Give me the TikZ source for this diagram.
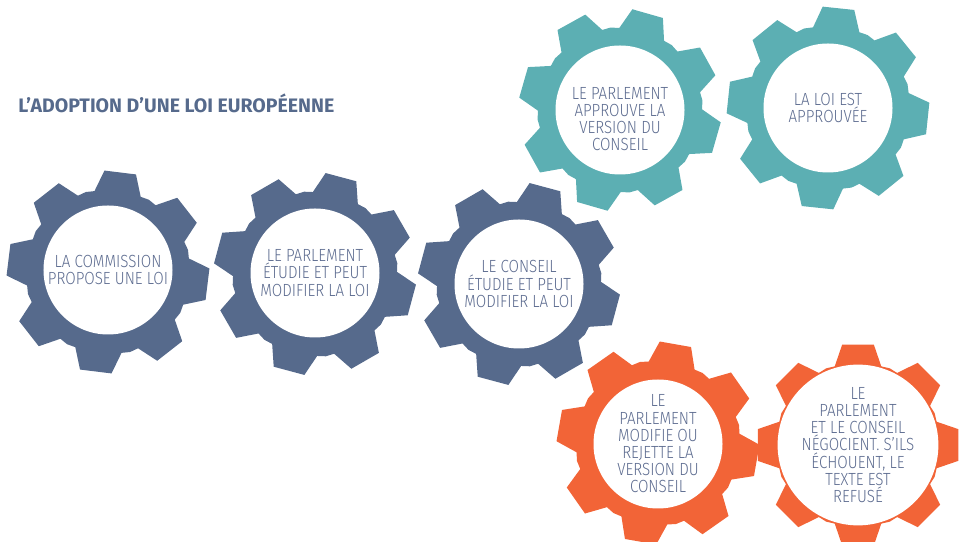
\documentclass[tikz,border=0pt]{standalone}
\usepackage{fontspec}
\setmainfont{Fira Sans}
\newfontfamily\gearfont{Fira Sans Light}[FakeStretch=0.86]
\usetikzlibrary{positioning}
\definecolor{gearblue}{HTML}{566A8C}
\definecolor{gearteal}{HTML}{5CAFB3}
\definecolor{gearorange}{HTML}{F26437}
\definecolor{labelblue}{HTML}{5D6C90}
\tikzstyle{disc} = [circle, fill=white, minimum size=25.8mm, inner sep=0pt, align=center, text=labelblue, font=\gearfont\fontsize{10}{9.8}\selectfont]
\tikzstyle{disctext} = [inner sep=0pt, align=center, text=labelblue, font=\gearfont\fontsize{10}{9.8}\selectfont]
\tikzstyle{heading} = [anchor=west, inner sep=0pt, text=gearblue, font=\bfseries\fontsize{11.1}{12}\selectfont]
% gear with 8 teeth: centre, rotation, colour
\newcommand{\gearat}[3]{%
  \fill[#3, shift={(#1)}, rotate=#2] (-16.5:82)
    \foreach \k in {0,...,7} { -- ({\k*45-16.5}:82) -- ({\k*45-9}:101.5) -- ({\k*45+9}:101.5) -- ({\k*45+16.5}:82) -- ({\k*45+22.5}:83) } -- cycle;}
\begin{document}
\begin{tikzpicture}[x=0.2mm, y=0.2mm]
    \useasboundingbox (0,0) rectangle (968,542);
    \node[heading] (title) at (18,439) {L’ADOPTION D’UNE LOI EUROPÉENNE};

    \gearat{108,270}{83}{gearblue}
    \gearat{315,268}{75}{gearblue}
    \gearat{519,258}{75}{gearblue}
    \gearat{620,432}{74}{gearteal}
    \gearat{828,434}{84}{gearteal}
    \gearat{658,99}{80}{gearorange}
    \gearat{858,97}{90}{gearorange}

    \node[disc] (propose) at (108,272) {LA COMMISSION\\PROPOSE UNE LOI};
    \node[disc] (parlement) at (315,269) {LE PARLEMENT\\ÉTUDIE ET PEUT\\MODIFIER LA LOI};
    \node[disc] (conseil) at (519,258) {LE CONSEIL\\ÉTUDIE ET PEUT\\MODIFIER LA LOI};
    \node[disc] (approuve) at (620,432) {};
    \node[disctext] (approuvetext) at (620,423) {LE PARLEMENT\\APPROUVE LA\\VERSION DU\\CONSEIL};
    \node[disc] (adoptee) at (828,434) {LA LOI EST\\APPROUVÉE};
    \node[disc] (modifie) at (658,98) {LE\\PARLEMENT\\MODIFIE OU\\REJETTE LA\\VERSION DU\\CONSEIL};
    \node[disc] (negocie) at (858,97) {LE\\PARLEMENT\\ET LE CONSEIL\\NÉGOCIENT. S’ILS\\ÉCHOUENT, LE\\TEXTE EST\\REFUSÉ};
\end{tikzpicture}
\end{document}
